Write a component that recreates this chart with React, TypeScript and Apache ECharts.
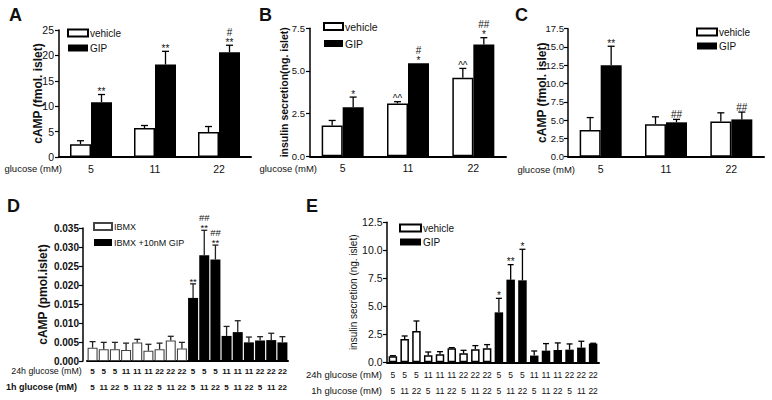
import React, { useEffect, useRef } from 'react';
import * as echarts from 'echarts';

const FONT = '"Liberation Sans", Arial, Helvetica, sans-serif';
const INK = '#111';

// ---------- Panel A: cAMP (fmol/islet) ----------
const glucoseCategories = ['5', '11', '22'];
const aVehicle = [2.5, 5.7, 4.9];
const aVehicleSem = [0.7, 0.5, 1.1];
const aGip = [10.8, 18.2, 20.6];
const aGipSem = [1.5, 2.6, 1.4];
const aVehicleMarks = ['', '', ''];
const aGipMarks = ['**', '**', '#\n**'];

// ---------- Panel B: insulin secretion (ng/islet) ----------
const bVehicle = [1.8, 3.1, 4.6];
const bVehicleSem = [0.3, 0.1, 0.55];
const bGip = [2.87, 5.45, 6.55];
const bGipSem = [0.6, 0, 0.4];
const bVehicleMarks = ['', '^^', '^^'];
const bGipMarks = ['*', '#\n*', '##\n*'];

// ---------- Panel C: cAMP (fmol/islet) ----------
const cVehicle = [3.65, 4.45, 4.8];
const cVehicleSem = [1.7, 1.0, 1.2];
const cGip = [12.5, 4.7, 5.1];
const cGipSem = [2.6, 0.4, 1.0];
const cVehicleMarks = ['', '', ''];
const cGipMarks = ['**', '##', '##'];

// ---------- Panels D & E: 24h / 1h glucose conditions ----------
const glucose24h = ['5', '5', '5', '11', '11', '11', '22', '22', '22', '5', '5', '5', '11', '11', '11', '22', '22', '22'];
const glucose1h = ['5', '11', '22', '5', '11', '22', '5', '11', '22', '5', '11', '22', '5', '11', '22', '5', '11', '22'];

// Panel D: cAMP (pmol/islet)
const dIbmx = [0.0035, 0.0031, 0.0031, 0.0029, 0.0049, 0.0027, 0.0031, 0.0054, 0.0033];
const dIbmxSem = [0.0016, 0.0018, 0.0018, 0.0018, 0.0008, 0.0017, 0.0016, 0.0011, 0.0016];
const dIbmxGip = [0.0166, 0.0278, 0.0267, 0.0066, 0.0076, 0.0049, 0.0054, 0.0055, 0.0049];
const dIbmxGipSem = [0.0037, 0.0066, 0.0038, 0.0025, 0.003, 0.0014, 0.001, 0.0018, 0.0015];
const dIbmxGipMarks = ['**', '##\n**', '##\n**', '', '', '', '', '', ''];

// Panel E: insulin secretion (ng/islet)
const eVehicle = [0.54, 2.08, 2.8, 0.63, 0.71, 1.25, 0.8, 1.16, 1.25];
const eVehicleSem = [0.05, 0.27, 0.89, 0.29, 0.24, 0.06, 0.27, 0.33, 0.33];
const eGip = [4.46, 7.38, 7.32, 0.6, 1.04, 1.1, 1.13, 1.31, 1.67];
const eGipSem = [1.25, 1.34, 2.77, 0.41, 0.63, 0.63, 0.51, 0.57, 0.03];
const eGipMarks = ['*', '**', '*', '', '', '', '', '', ''];

type Pt = { x: number; mean: number; sem: number; mark: string; offset: number };

function errorSeries(xAxisIndex: number, yAxisIndex: number, pts: Pt[], capHalf: number, color: string, markSize: number) {
  return {
    type: 'custom',
    xAxisIndex,
    yAxisIndex,
    silent: true,
    z: 5,
    data: pts.map((p) => [p.x, p.mean, p.mean + p.sem]),
    renderItem: (params: any, api: any) => {
      const p = pts[params.dataIndex];
      const b = api.coord([api.value(0), api.value(1)]);
      const t = api.coord([api.value(0), api.value(2)]);
      const cx = b[0] + p.offset;
      const children: any[] = [];
      if (p.sem > 0) {
        children.push({ type: 'line', shape: { x1: cx, y1: b[1], x2: cx, y2: t[1] }, style: { stroke: color, lineWidth: 1.3 } });
        children.push({ type: 'line', shape: { x1: cx - capHalf, y1: t[1], x2: cx + capHalf, y2: t[1] }, style: { stroke: color, lineWidth: 1.3 } });
      }
      const lines = p.mark ? p.mark.split('\n').reverse() : [];
      lines.forEach((ln, k) => {
        const center = t[1] - 5 - 8 * k;
        const adj = ln.includes('*') ? 2.2 : ln.includes('^') ? 1.6 : 0;
        children.push({
          type: 'text',
          x: cx,
          y: center + adj,
          style: { text: ln, fontSize: markSize, fontFamily: FONT, fill: INK, align: 'center', verticalAlign: 'middle' },
        });
      });
      return { type: 'group', children };
    },
  };
}

function groupedPts(means: number[], sems: number[], marks: string[], offset: number): Pt[] {
  return means.map((m, i) => ({ x: i, mean: m, sem: sems[i], mark: marks[i], offset }));
}

function splitPts(means: number[], sems: number[], marks: string[] | null, start: number): Pt[] {
  return means.map((m, i) => ({ x: start + i, mean: m, sem: sems[i], mark: marks ? marks[i] : '', offset: 0 }));
}

const blank9 = ['-', '-', '-', '-', '-', '-', '-', '-', '-'];

const whiteStyle = { color: '#fff', borderColor: '#000', borderWidth: 1.5 };
const blackStyle = { color: '#000', borderColor: '#000', borderWidth: 0 };

function yAxisBase(gridIndex: number, max: number, interval: number, name: string, nameGap: number, nameSize: number, nameBold: boolean, labelSize: number, labelBold: boolean, digits: number, margin: number, offset = 0) {
  return {
    type: 'value',
    gridIndex,
    min: 0,
    max,
    interval,
    offset,
    name,
    nameLocation: 'middle',
    nameGap,
    nameMoveOverlap: false,
    nameTextStyle: { fontSize: nameSize, fontWeight: nameBold ? 'bold' : 'normal', color: INK, fontFamily: FONT },
    axisLine: { show: true, lineStyle: { color: '#000', width: 1.5 } },
    axisTick: { show: true, length: 4, lineStyle: { color: '#000', width: 1.2 } },
    splitLine: { show: false },
    axisLabel: {
      fontSize: labelSize,
      fontWeight: labelBold ? 'bold' : 'normal',
      color: INK,
      fontFamily: FONT,
      margin,
      formatter: (v: number) => v.toFixed(digits),
    },
  };
}

function xAxisCat(gridIndex: number, data: string[], fontSize: number, margin: number, bold: boolean, showLine: boolean, offset = 0) {
  return {
    type: 'category',
    gridIndex,
    data,
    position: 'bottom',
    offset,
    axisLine: { show: showLine, lineStyle: { color: '#000', width: 2 } },
    axisTick: { show: false },
    axisLabel: { fontSize, color: INK, fontFamily: FONT, margin, fontWeight: bold ? 'bold' : 'normal', interval: 0 },
  };
}

function legendAt(left: number, top: number, data: string[], itemWidth: number, itemGap: number, fontSize: number) {
  return {
    orient: 'vertical',
    left,
    top,
    padding: 0,
    itemWidth,
    itemHeight: 7,
    itemGap,
    selectedMode: false,
    data: data.map((n) => ({ name: n, icon: 'rect' })),
    textStyle: { fontSize, color: INK, fontFamily: FONT, padding: [0, 0, 0, -3] },
  };
}

function txt(x: number, y: number, text: string, fontSize: number, bold: boolean, align: string) {
  return {
    type: 'text',
    x,
    y,
    silent: true,
    style: { text, fontSize, fontWeight: bold ? 'bold' : 'normal', fontFamily: FONT, fill: INK, align, verticalAlign: 'middle' },
  };
}

export default function App() {
  const ref = useRef<HTMLDivElement>(null);
  useEffect(() => {
    if (!ref.current) return;
    const chart = echarts.init(ref.current, undefined, { renderer: 'svg' });
    const bw = 21;
    const option: any = {
      animation: false,
      backgroundColor: '#fff',
      textStyle: { fontFamily: FONT },
      grid: [
        { left: 59, top: 30, width: 192, height: 127 },
        { left: 310, top: 28.3, width: 196, height: 128 },
        { left: 568, top: 28.7, width: 196, height: 128 },
        { left: 87, top: 228, width: 201, height: 133 },
        { left: 387, top: 222.3, width: 212, height: 140 },
      ],
      xAxis: [
        xAxisCat(0, glucoseCategories, 10.5, 6, false, true),
        xAxisCat(1, glucoseCategories, 10.5, 6, false, true),
        xAxisCat(2, glucoseCategories, 10.5, 7, false, true),
        xAxisCat(3, glucose24h, 8, 6, true, true),
        xAxisCat(3, glucose1h, 8, 6, true, false, 16),
        xAxisCat(4, glucose24h, 8.5, 8, false, true),
        xAxisCat(4, glucose1h, 8.5, 8, false, false, 15.7),
      ],
      yAxis: [
        yAxisBase(0, 25, 5, 'cAMP (fmol. islet)', 15, 12, true, 10.5, false, 0, 5),
        yAxisBase(1, 7.5, 2.5, 'insulin secretion(ng. islet)', 21, 10.5, true, 9.5, false, 1, 5),
        yAxisBase(2, 17.5, 2.5, 'cAMP (fmol. islet)', 20, 12, true, 9.5, false, 1, 4),
        yAxisBase(3, 0.035, 0.005, 'cAMP (pmol.islet)', 34, 12, true, 10, true, 3, 4, 4),
        yAxisBase(4, 12.5, 2.5, 'insulin secretion (ng. islet)', 29, 10, false, 10.5, false, 1, 4.5),
      ],
      legend: [
        legendAt(67, 28, ['vehicle', 'GIP'], 20, 5, 10),
        legendAt(323, 21, ['vehicle', 'GIP'], 19, 6, 10.5),
        legendAt(696, 27, ['vehicle', 'GIP'], 20, 4, 10),
        legendAt(93, 222, ['IBMX', 'IBMX +10nM GIP'], 18, 7, 9),
        legendAt(399, 223, ['vehicle', 'GIP'], 21, 4, 10),
      ],
      series: [
        // A
        { type: 'bar', name: 'vehicle', xAxisIndex: 0, yAxisIndex: 0, data: aVehicle, barWidth: bw, barGap: '0%', itemStyle: whiteStyle },
        { type: 'bar', name: 'GIP', xAxisIndex: 0, yAxisIndex: 0, data: aGip, barWidth: bw, barGap: '0%', itemStyle: blackStyle },
        errorSeries(0, 0, [...groupedPts(aVehicle, aVehicleSem, aVehicleMarks, -bw / 2), ...groupedPts(aGip, aGipSem, aGipMarks, bw / 2)], 3.5, '#000', 10),
        // B
        { type: 'bar', name: 'vehicle', xAxisIndex: 1, yAxisIndex: 1, data: bVehicle, barWidth: bw, barGap: '0%', itemStyle: whiteStyle },
        { type: 'bar', name: 'GIP', xAxisIndex: 1, yAxisIndex: 1, data: bGip, barWidth: bw, barGap: '0%', itemStyle: blackStyle },
        errorSeries(1, 1, [...groupedPts(bVehicle, bVehicleSem, bVehicleMarks, -bw / 2), ...groupedPts(bGip, bGipSem, bGipMarks, bw / 2)], 3.5, '#000', 10),
        // C
        { type: 'bar', name: 'vehicle', xAxisIndex: 2, yAxisIndex: 2, data: cVehicle, barWidth: bw, barGap: '0%', itemStyle: whiteStyle },
        { type: 'bar', name: 'GIP', xAxisIndex: 2, yAxisIndex: 2, data: cGip, barWidth: bw, barGap: '0%', itemStyle: blackStyle },
        errorSeries(2, 2, [...groupedPts(cVehicle, cVehicleSem, cVehicleMarks, -bw / 2), ...groupedPts(cGip, cGipSem, cGipMarks, bw / 2)], 3.5, '#000', 10),
        // D
        { type: 'bar', name: 'IBMX', xAxisIndex: 3, yAxisIndex: 3, data: [...dIbmx, ...blank9], barWidth: 10, barGap: '-100%', itemStyle: { color: '#fff', borderColor: '#444', borderWidth: 1.1 } },
        { type: 'bar', name: 'IBMX +10nM GIP', xAxisIndex: 3, yAxisIndex: 3, data: [...blank9, ...dIbmxGip], barWidth: 10, barGap: '-100%', itemStyle: blackStyle },
        errorSeries(3, 3, [...splitPts(dIbmx, dIbmxSem, null, 0), ...splitPts(dIbmxGip, dIbmxGipSem, dIbmxGipMarks, 9)], 3, '#222', 9.5),
        // E
        { type: 'bar', name: 'vehicle', xAxisIndex: 5, yAxisIndex: 4, data: [...eVehicle, ...blank9], barWidth: 8.5, barGap: '-100%', itemStyle: whiteStyle },
        { type: 'bar', name: 'GIP', xAxisIndex: 5, yAxisIndex: 4, data: [...blank9, ...eGip], barWidth: 8.5, barGap: '-100%', itemStyle: blackStyle },
        errorSeries(5, 4, [...splitPts(eVehicle, eVehicleSem, null, 0), ...splitPts(eGip, eGipSem, eGipMarks, 9)], 3, '#000', 10),
      ],
      graphic: [
        txt(9, 15, 'A', 18, true, 'left'),
        txt(259, 15, 'B', 18, true, 'left'),
        txt(515, 15, 'C', 18, true, 'left'),
        txt(7, 206, 'D', 18, true, 'left'),
        txt(306, 206, 'E', 18, true, 'left'),
        txt(62, 168.5, 'glucose (mM)', 9.5, false, 'right'),
        txt(317, 168.5, 'glucose (mM)', 9.5, false, 'right'),
        txt(575, 169.3, 'glucose (mM)', 9.5, false, 'right'),
        txt(81.7, 371, '24h glucose (mM)', 8.8, false, 'right'),
        txt(77, 387, '1h glucose (mM)', 9, true, 'right'),
        txt(382, 374.3, '24h glucose (mM)', 9.5, false, 'right'),
        txt(382, 390, '1h glucose (mM)', 9.5, false, 'right'),
      ],
    };
    chart.setOption(option);
    return () => chart.dispose();
  }, []);
  return <div ref={ref} style={{ position: 'fixed', left: 0, top: 0, width: 772, height: 400, background: '#fff' }} />;
}
